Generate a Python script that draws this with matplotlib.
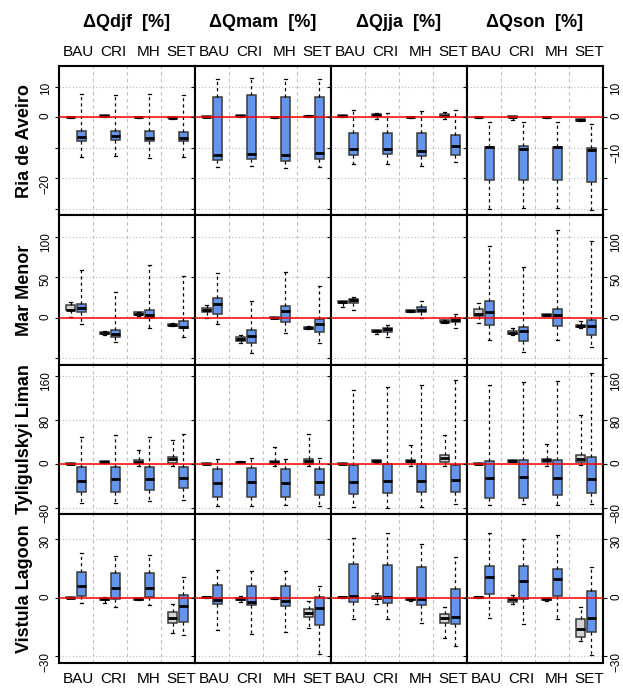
import matplotlib
matplotlib.use("Agg")
import matplotlib.pyplot as plt

plt.rcParams['font.family'] = ['Liberation Sans', 'DejaVu Sans']

seasons = ['djf', 'mam', 'jja', 'son']
scenarios = ['BAU', 'CRI', 'MH', 'SET']
sites = ['Ria de Aveiro', 'Mar Menor', 'Tyligulskyi Liman', 'Vistula Lagoon']

# each box: [whisker low, q1, median, q3, whisker high]; per season, per scenario
# grey = reference boxes, blue = scenario boxes
aveiro_grey = [
    [[-0.2, -0.1, 0, 0.1, 0.2], [0.1, 0.2, 0.4, 0.6, 0.7], [-0.2, -0.1, 0, 0.1, 0.2], [-0.6, -0.4, -0.2, 0, 0.1]],
    [[-0.1, 0, 0.1, 0.3, 0.4], [0.2, 0.3, 0.5, 0.7, 0.8], [-0.2, -0.1, 0, 0.1, 0.2], [0.1, 0.2, 0.3, 0.5, 0.6]],
    [[0.1, 0.2, 0.4, 0.6, 0.7], [-0.5, 0.3, 0.8, 1.1, 1.3], [-0.2, -0.1, 0, 0.1, 0.2], [-0.6, 0, 0.5, 0.9, 1.7]],
    [[-0.2, -0.1, 0, 0.1, 0.2], [-1.0, -0.1, 0.2, 0.4, 0.5], [-0.2, -0.1, 0, 0.1, 0.2], [-1.3, -1.2, -0.9, -0.6, -0.5]],
]
aveiro_blue = [
    [[-13.0, -7.9, -6.6, -4.6, 7.7], [-12.8, -7.6, -6.1, -4.5, 7.4], [-13.2, -7.9, -6.7, -4.6, 7.7], [-13.0, -7.9, -6.7, -4.8, 7.1]],
    [[-16.3, -14.1, -12.3, 6.6, 12.6], [-15.9, -13.8, -12.1, 7.1, 12.9], [-16.5, -14.2, -12.5, 6.5, 12.5], [-16.1, -13.8, -11.8, 6.6, 12.5]],
    [[-15.3, -12.3, -10.4, -5.1, 2.4], [-15.2, -12.0, -10.3, -5.1, 1.4], [-15.8, -12.6, -11.1, -5.3, 2.1], [-14.7, -12.2, -9.3, -5.7, 2.3]],
    [[-29.8, -20.5, -9.7, -9.6, -1.7], [-29.6, -20.5, -10.4, -9.3, -1.5], [-29.7, -20.5, -9.7, -9.6, -1.5], [-30.2, -21.3, -10.7, -10.1, -2.2]],
]
menor_grey = [
    [[0.8, 9.0, 10.0, 16.0, 19.7], [-21, -20.5, -19, -17.5, -16.5], [2, 3, 4.5, 6.5, 7], [-10.5, -10, -9, -7.5, -6.5]],
    [[0, 7.0, 9.4, 11.5, 15.2], [-30.7, -28.3, -25.8, -24.2, -21.7], [-0.8, -0.5, 0, 0.5, 0.8], [-14.5, -14, -13.1, -11.5, -10.5]],
    [[12.5, 18.5, 19.3, 20, 20.5], [-20.5, -17.5, -16.8, -15.5, -15], [7, 7.5, 8.2, 9, 9.5], [-6.6, -5.5, -4.9, -3.5, -3]],
    [[-7.0, 1.6, 4.9, 11.1, 17.6], [-21.5, -20, -18.5, -16, -13], [1.5, 2, 2.9, 4.2, 4.7], [-13, -11, -9.8, -8.5, -4.5]],
]
menor_blue = [
    [[-8.2, 7.0, 11.9, 16.8, 58.2], [-29.9, -24.2, -20.1, -14.8, 31.1], [-13.1, -0.4, 3.3, 9.8, 64.3], [-23.4, -13.1, -11.1, -3.7, 51.6]],
    [[-8.2, 4.5, 17.2, 23.8, 55.3], [-43.9, -30.7, -23.0, -15.2, 20.9], [-19.3, -5.3, 7.8, 13.9, 56.6], [-31.1, -18.0, -8.2, -1.2, 38.9]],
    [[9.8, 18.4, 21.3, 22.5, 25.8], [-23.4, -17.6, -14.3, -12.7, -9.0], [-0.4, 6.6, 9.8, 12.7, 20.5], [-12.3, -5.7, -2.9, -0.4, 4.9]],
    [[-27.0, -9.0, 7.4, 20.9, 88.9], [-42.6, -28.3, -16.8, -11.9, 62.7], [-27.0, -10.7, 3.3, 11.1, 108.2], [-36.5, -21.7, -9.8, -3.3, 93.9]],
]
tyl_grey = [
    [[-1, -0.5, 0, 0.5, 1], [1, 1.8, 3, 4, 5], [-4.2, 1.2, 3.6, 6.0, 24.8], [-4.8, 1.8, 7.9, 11.5, 43.5]],
    [[-1, -0.5, 0, 0.5, 1], [0.5, 1, 2.4, 3.5, 4], [-3.6, 0, 2.4, 4.2, 29.6], [-4.2, 0, 4.8, 8.5, 54.4]],
    [[-1, -0.5, 0, 0.5, 1], [1.5, 2.5, 4.2, 6, 6.5], [-4.2, 2.4, 4.8, 7.3, 34.5], [-3.6, 3.0, 9.7, 15.1, 52.0]],
    [[-1, -0.5, 0, 0.5, 1], [2.5, 3.5, 5.4, 7.2, 7.5], [-3.6, 2.4, 6.0, 8.5, 36.3], [-3.0, 3.0, 8.5, 15.1, 87.7]],
]
tyl_blue = [
    [[-70.7, -51.4, -30.8, -6.7, 49.0], [-70.7, -50.8, -28.4, -5.4, 51.4], [-67.1, -47.8, -27.2, -5.4, 49.0], [-66.5, -43.5, -25.4, -6.7, 54.4]],
    [[-76.8, -61.1, -35.1, -9.1, 8.5], [-76.8, -60.5, -33.9, -8.5, 10.9], [-75.6, -59.9, -35.7, -9.1, 7.9], [-76.8, -57.4, -33.9, -9.1, 10.3]],
    [[-79.2, -54.4, -33.9, -3.0, 133.6], [-79.8, -52.6, -31.4, -1.2, 139.7], [-78.0, -51.4, -31.4, -0.6, 143.3], [-72.6, -50.8, -30.2, -1.8, 152.4]],
    [[-74.4, -62.9, -26.6, 4.8, 142.7], [-73.8, -61.7, -24.8, 6.0, 148.7], [-74.4, -57.4, -26.6, 6.0, 149.3], [-72.6, -53.8, -27.2, 12.1, 165.1]],
]
vistula_grey = [
    [[-0.3, -0.1, 0, 0.1, 0.3], [-2.6, -1.0, -0.5, 0, 0.5], [-1.2, -1.0, -0.7, -0.3, -0.1], [-17.9, -13.1, -10.4, -7.5, -3.4]],
    [[-0.1, 0, 0.2, 0.4, 0.5], [-2.2, -1.0, -0.5, 0, 0.8], [-0.6, -0.4, -0.2, 0, 0.2], [-15.3, -9.9, -7.8, -6.0, -1.5]],
    [[-0.1, 0, 0.2, 0.4, 0.5], [-3.2, -0.7, 0, 1.0, 2.4], [-1.7, -1.4, -0.9, -0.3, 0], [-20.8, -12.8, -10.6, -8.3, -4.8]],
    [[-0.1, 0, 0.2, 0.4, 0.5], [-3.4, -2.4, -0.9, 0, 1.4], [-1.5, -1.2, -0.7, -0.2, 0], [-22.3, -20.1, -16.0, -10.7, -4.6]],
]
vistula_blue = [
    [[-2.9, 0.7, 6.0, 13.3, 22.7], [-4.8, -0.9, 4.9, 12.8, 21.5], [-3.9, 0.2, 4.9, 12.4, 21.8], [-19.1, -12.3, -4.3, 1.5, 10.6]],
    [[-16.7, -3.4, -1.2, 6.5, 14.1], [-18.4, -3.9, -2.4, 6.0, 13.6], [-17.4, -4.1, -1.7, 6.0, 13.6], [-28.6, -14.0, -5.5, 0.5, 5.8]],
    [[-11.1, -2.0, 0.9, 17.2, 30.3], [-11.1, -2.9, 0.5, 16.9, 32.9], [-12.9, -3.6, -0.5, 15.7, 27.6], [-24.7, -13.5, -9.9, 4.6, 20.6]],
    [[-10.2, 1.7, 10.4, 16.0, 32.9], [-13.5, -0.7, 8.5, 16.0, 30.2], [-10.9, 0.7, 9.5, 14.8, 32.2], [-29.3, -17.7, -10.4, 3.2, 15.8]],
]
grey_data = [aveiro_grey, menor_grey, tyl_grey, vistula_grey]
blue_data = [aveiro_blue, menor_blue, tyl_blue, vistula_blue]

ylims = [(-32, 16.7), (-57.8, 126.2), (-90.9, 180), (-33.4, 42.9)]
yticks = [[10, 0, -10, -20, -30], [100, 50, 0, -50], [160, 80, 0, -80], [30, 0, -30]]
left_labels = [['10', '0', '', '−20', ''], ['100', '50', '0', ''],
               ['160', '80', '0', '−80'], ['30', '0', '−30']]
right_labels = [['10', '0', '−10', '', ''], ['100', '50', '0', ''],
                ['160', '80', '0', '−80'], ['30', '0', '−30']]
label_pos = [1.06, 2.1, 3.15, 4.08]


def to_stats(boxes):
    return [dict(whislo=b[0], q1=b[1], med=b[2], q3=b[3], whishi=b[4]) for b in boxes]


def draw_boxes(ax, boxes, pos, width, color):
    ax.bxp(to_stats(boxes), positions=pos, widths=width, capwidths=0.08,
           patch_artist=True, showfliers=False, zorder=3,
           boxprops=dict(facecolor=color, edgecolor='#3a3a3a', linewidth=1.1),
           medianprops=dict(color='black', linewidth=2.0),
           whiskerprops=dict(color='black', linewidth=0.9, linestyle=(0, (2.5, 2.5))),
           capprops=dict(color='black', linewidth=0.9))


fig, axes = plt.subplots(4, 4, figsize=(6.23, 6.89), dpi=100,
                         gridspec_kw=dict(wspace=0, hspace=0, left=0.0947, right=0.9679,
                                          top=0.9042, bottom=0.0377))

x = [1, 2, 3, 4]
for r in range(4):
    for c in range(4):
        ax = axes[r, c]
        ax.set_xlim(0.5, 4.5)
        ax.set_ylim(ylims[r])
        for xs in [1.5, 2.5, 3.5]:
            ax.axvline(xs, color='#bdbdbd', lw=0.8, ls=(0, (3, 3)), zorder=1)
        for yt in yticks[r]:
            ax.axhline(yt, color='#bdbdbd', lw=0.8, ls=(0, (1, 2)), zorder=1)

        draw_boxes(ax, grey_data[r][c], [p - 0.16 for p in x], 0.25, '#d3d3d3')
        draw_boxes(ax, blue_data[r][c], [p + 0.16 for p in x], 0.28, '#6495ed')
        ax.axhline(0, color='red', lw=1.1, zorder=4)

        ax.set_xticks([])
        ax.set_yticks(yticks[r])
        ax.set_yticklabels(left_labels[r])
        ax.tick_params(axis='y', direction='out', length=2.9, width=0.8, pad=2.2,
                       labelsize=8.5, labelrotation=90, labelleft=(c == 0))
        for sp in ax.spines.values():
            sp.set_linewidth(1.5)

        if c == 3:
            tw = ax.twinx()
            tw.set_ylim(ylims[r])
            tw.set_yticks(yticks[r])
            tw.set_yticklabels(right_labels[r])
            tw.tick_params(axis='y', direction='out', length=2.9, width=0.8, pad=2.2,
                           labelsize=8.5, labelrotation=90)
            for sp in tw.spines.values():
                sp.set_visible(False)

        if c == 0:
            ax.annotate(sites[r], xy=(0, 0.5), xycoords='axes fraction',
                        xytext=(-24.5, 0), textcoords='offset points',
                        rotation=90, ha='center', va='center',
                        fontsize=13, fontweight='bold')

        if r == 0:
            ax.annotate('ΔQ' + seasons[c] + '  [%]', xy=(0.5, 1), xycoords='axes fraction',
                        xytext=(0, 31.5), textcoords='offset points',
                        ha='center', va='center', fontsize=13, fontweight='bold')
            for i, s in enumerate(scenarios):
                ax.annotate(s, xy=(label_pos[i], 1), xycoords=ax.get_xaxis_transform(),
                            xytext=(0, 10.1), textcoords='offset points',
                            ha='center', va='center', fontsize=11)
        if r == 3:
            for i, s in enumerate(scenarios):
                ax.annotate(s, xy=(label_pos[i], 0), xycoords=ax.get_xaxis_transform(),
                            xytext=(0, -11.5), textcoords='offset points',
                            ha='center', va='center', fontsize=11)

fig.savefig('out.png', dpi=100)
